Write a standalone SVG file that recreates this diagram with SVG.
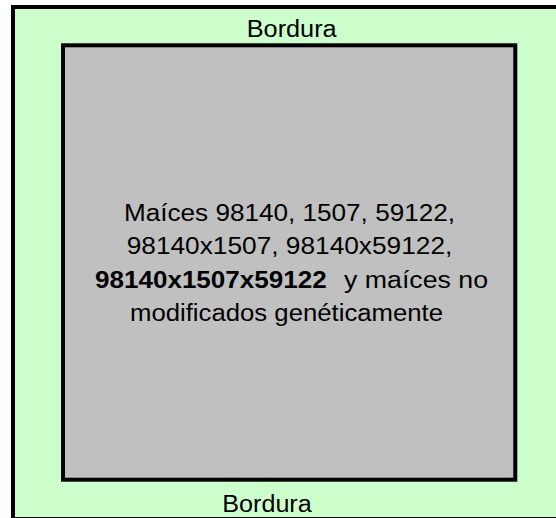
<svg xmlns="http://www.w3.org/2000/svg" width="556" height="518" viewBox="0 0 556 518">
<style>
.lbl{font-family:"Liberation Sans",Arial,sans-serif;font-size:23px;fill:#000;}
.b{font-weight:bold;}
</style>
<rect width="556" height="518" fill="#ffffff"/>
<g id="bordura">
<rect x="13" y="7" width="560" height="512" fill="#CCFFCC" stroke="#000" stroke-width="4"/>
<text class="lbl" x="246.7" y="36.7" textLength="90" lengthAdjust="spacingAndGlyphs">Bordura</text>
<text class="lbl" x="222.3" y="511.7" textLength="89.4" lengthAdjust="spacingAndGlyphs">Bordura</text>
</g>
<g id="parcela">
<rect x="63" y="45.3" width="452.3" height="434.4" fill="#C0C0C0" stroke="#000" stroke-width="4"/>
<text class="lbl" x="124" y="220.7" textLength="331" lengthAdjust="spacingAndGlyphs">Maíces 98140, 1507, 59122,</text>
<text class="lbl" x="126.7" y="254.2" textLength="325.6" lengthAdjust="spacingAndGlyphs">98140x1507, 98140x59122,</text>
<text class="lbl b" x="95" y="287.7" textLength="231.7" lengthAdjust="spacingAndGlyphs">98140x1507x59122</text>
<text class="lbl" x="344" y="287.7" textLength="144" lengthAdjust="spacingAndGlyphs">y maíces no</text>
<text class="lbl" x="130" y="321.2" textLength="313" lengthAdjust="spacingAndGlyphs">modificados genéticamente</text>
</g>
</svg>
